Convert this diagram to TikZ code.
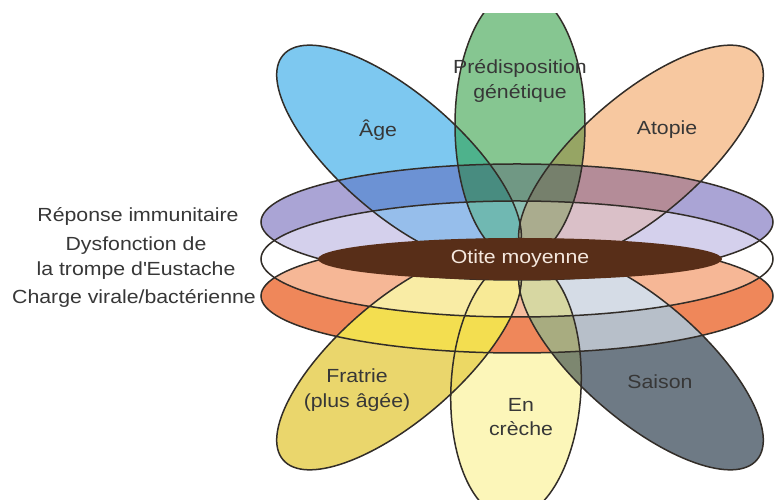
\documentclass[tikz,border=0pt]{standalone}
\usepackage{fontspec}
\setmainfont{Liberation Sans}[FakeStretch=1.12]
\usetikzlibrary{shapes.geometric}
\definecolor{cPur}{RGB}{170,164,213}
\definecolor{cPurW}{RGB}{212,208,236}
\definecolor{cOra}{RGB}{239,135,90}
\definecolor{cOraW}{RGB}{246,183,150}
\definecolor{cOtite}{RGB}{88,46,24}
\definecolor{cLine}{RGB}{50,45,40}
\definecolor{cTxt}{RGB}{55,55,55}
\definecolor{cOtTxt}{RGB}{245,232,222}
% upper petals
\definecolor{ageB}{RGB}{125,200,240}\definecolor{ageP}{RGB}{108,146,212}\definecolor{ageW}{RGB}{150,190,235}
\definecolor{genB}{RGB}{134,198,145}\definecolor{genP}{RGB}{112,152,132}\definecolor{genW}{RGB}{140,190,178}
\definecolor{agB}{RGB}{78,178,140}\definecolor{agP}{RGB}{72,140,128}\definecolor{agW}{RGB}{112,184,178}
\definecolor{atoB}{RGB}{247,200,160}\definecolor{atoP}{RGB}{180,140,152}\definecolor{atoW}{RGB}{218,192,200}
\definecolor{gaB}{RGB}{150,165,100}\definecolor{gaP}{RGB}{118,128,108}\definecolor{gaW}{RGB}{170,172,142}
% lower petals
\definecolor{fraB}{RGB}{234,214,108}\definecolor{fraO}{RGB}{243,222,80}\definecolor{fraW}{RGB}{249,236,165}
\definecolor{creB}{RGB}{252,246,185}\definecolor{creO}{RGB}{239,135,90}\definecolor{creW}{RGB}{246,188,158}
\definecolor{fcB}{RGB}{236,216,100}\definecolor{fcO}{RGB}{243,222,80}\definecolor{fcW}{RGB}{248,234,150}
\definecolor{csB}{RGB}{125,135,112}\definecolor{csO}{RGB}{168,172,128}\definecolor{csW}{RGB}{215,215,162}
\definecolor{saiB}{RGB}{110,122,133}\definecolor{saiO}{RGB}{183,191,201}\definecolor{saiW}{RGB}{213,220,230}

\def\PPur{(517,278) ellipse [x radius=256pt, y radius=58pt]}
\def\PWhi{(517,241) ellipse [x radius=256pt, y radius=58pt]}
\def\POra{(517,204) ellipse [x radius=256pt, y radius=57pt]}
\def\PAge{(399,345) ellipse [x radius=153pt, y radius=60pt]}
\def\PAto{(641,345) ellipse [x radius=153pt, y radius=60pt]}
\def\PFra{(399,140) ellipse [x radius=153pt, y radius=60pt]}
\def\PSai{(641,140) ellipse [x radius=153pt, y radius=60pt]}
\def\PGen{(520,375) ellipse [x radius=65pt, y radius=135pt]}
\def\PCre{(516,112) ellipse [x radius=65pt, y radius=130pt]}

\newcommand\upzones[4]{\begin{scope}#1\fill[#2] (0,0) rectangle (774,500);\fill[#3] \PPur;\begin{scope}\clip \PWhi;\fill[#4] \PPur;\end{scope}\end{scope}}
\newcommand\lowzones[4]{\begin{scope}#1\fill[#2] (0,0) rectangle (774,500);\fill[#3] \POra;\begin{scope}\clip \PWhi;\fill[#4] \POra;\end{scope}\end{scope}}

\begin{document}
\begin{tikzpicture}[x=1pt,y=1pt,
  trAge/.style={rotate around={-40.8:(399,345)}},
  trAto/.style={rotate around={40.8:(641,345)}},
  trFra/.style={rotate around={40.8:(399,140)}},
  trSai/.style={rotate around={-40.8:(641,140)}},
  trCre/.style={rotate around={-3:(516,112)}},
  outl/.style={draw=cLine, line width=1.5pt},
  lbl/.style={text=cTxt, font=\fontsize{19}{24.5}\selectfont, align=center, inner sep=0pt},
]
\useasboundingbox[fill=white] (0,0) rectangle (774,500);
\begin{scope}
\clip (0,0) rectangle (774,486);
% bands
\fill[cPur] \PPur;
\fill[cOra] \POra;
\begin{scope}\clip \PWhi; \fill[cPurW] \PPur; \fill[cOraW] \POra;\end{scope}
% upper petals
\upzones{\clip[trAge] \PAge;}{ageB}{ageP}{ageW}
\upzones{\clip \PGen;}{genB}{genP}{genW}
\upzones{\clip[trAto] \PAto;}{atoB}{atoP}{atoW}
\upzones{\clip[trAge] \PAge; \clip \PGen;}{agB}{agP}{agW}
\upzones{\clip[trAto] \PAto; \clip \PGen;}{gaB}{gaP}{gaW}
% lower petals
\lowzones{\clip[trFra] \PFra;}{fraB}{fraO}{fraW}
\lowzones{\clip[trCre] \PCre;}{creB}{creO}{creW}
\lowzones{\clip[trSai] \PSai;}{saiB}{saiO}{saiW}
\lowzones{\clip[trFra] \PFra; \clip[trCre] \PCre;}{fcB}{fcO}{fcW}
\lowzones{\clip[trSai] \PSai; \clip[trCre] \PCre;}{csB}{csO}{csW}
% outlines
\draw[outl] \PPur;
\draw[outl] \PWhi;
\draw[outl] \POra;
\draw[outl, trAge] \PAge;
\draw[outl, trAto] \PAto;
\draw[outl] \PGen;
\draw[outl, trFra] \PFra;
\draw[outl, trSai] \PSai;
\draw[outl, trCre] \PCre;
\end{scope}
% centre
\node[ellipse, fill=cOtite, minimum width=404pt, minimum height=42pt, inner sep=0pt,
      text=cOtTxt, font=\fontsize{19}{24}\selectfont] (otite) at (520,241) {Otite moyenne};
% labels
\node[lbl] (resp) at (138,284) {Réponse immunitaire};
\node[lbl] (dysf) at (136,242) {Dysfonction de\\la trompe d\textquotesingle Eustache};
\node[lbl] (charge) at (134,202) {Charge virale/bactérienne};
\node[lbl] (age) at (378,370) {Âge};
\node[lbl] (pred) at (520,419) {Prédisposition\\génétique};
\node[lbl] (atopie) at (667,370) {Atopie};
\node[lbl] (fratrie) at (357,110) {Fratrie\\(plus âgée)};
\node[lbl] (creche) at (521,83) {En\\crèche};
\node[lbl] (saison) at (660,118) {Saison};
\end{tikzpicture}
\end{document}
